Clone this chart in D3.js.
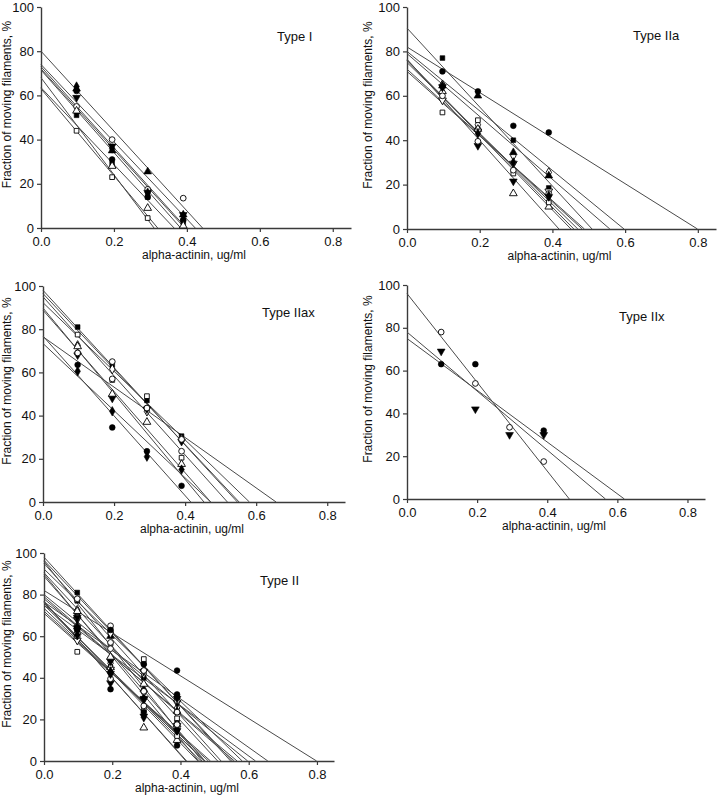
<!DOCTYPE html>
<html>
<head>
<meta charset="utf-8">
<script src="https://cdn.jsdelivr.net/npm/d3@7"></script>
<style>
  html, body { margin: 0; padding: 0; background: #fff; }
  svg { display: block; font-family: "Liberation Sans", Arial, sans-serif; }
</style>
</head>
<body>
<svg id="chart" width="720" height="795"></svg>
<script>
// ---------------- DATA ----------------
const xValues = [0.0975, 0.195, 0.2925, 0.39];
const yTicks = [0, 20, 40, 60, 80, 100];
const xTicks = [0, 0.2, 0.4, 0.6, 0.8];
const xAxisTitle = "alpha-actinin, ug/ml";
const yAxisTitle = "Fraction of moving filaments, %";

// Type I
const typeIMarkers = ["triangle", "circleOpen", "triangleDown", "diamond", "circle", "square", "squareOpen", "triangleOpen"];
const typeIValues = [
  [63, 35, 25.5, 6],
  [55, 40, 17.5, 13.5],
  [59, 37, 16, 6],
  [64, 36, 16, 4],
  [62, 31, 14, 3.5],
  [51, 29, 14, 2.5],
  [44, 23, 4.5, null],
  [53, 28, 9, 1]
];
const typeIIntercepts = [80, 74, 73, 72, 71.5, 63.5, 63, 68];
const typeIXZeros = [0.443, 0.423, 0.398, 0.394, 0.383, 0.365, 0.32, 0.31];

// Type IIa
const typeIIaMarkers = ["circle", "square", "diamondOpen", "triangle", "triangleOpen", "triangleDownOpen", "squareOpen", "triangleDown", "circleOpen", "diamond"];
const typeIIaValues = [
  [71, 62, 46.5, 43.5],
  [77, 45, 40, 18.5],
  [65, 47, 33, 25.5],
  [64.5, 60, 34.5, 24],
  [62, 45, 16, 10],
  [58, 44, 29.5, 17],
  [52.5, 49, 25, 12],
  [64, 37.5, 21.5, 14.5],
  [60, 39.5, 26.5, 16],
  [64, 43, 30, 15]
];
const typeIIaIntercepts = [82, 90.5, 80, 79, 76, 72, 71, 76.5, 75, 76];
const typeIIaXZeros = [0.799, 0.509, 0.597, 0.558, 0.451, 0.482, 0.488, 0.418, 0.47, 0.459];

// Type IIax
const typeIIaxMarkers = ["square", "squareOpen", "circleOpen", "diamondOpen", "triangleDown", "triangleOpen", "circle", "diamond", "circleOpen"];
const typeIIaxValues = [
  [81, 63.5, 47, 30.5],
  [77.5, 56.5, 49, 20.5],
  [69, 65, 43.5, 23.5],
  [72.5, 61.5, 42, 29],
  [68, 48, 43, 28],
  [72, 50, 37, 17.5],
  [63.5, 34.5, 23.5, 7.5],
  [60.5, 42, 21, 15],
  [69, 57, 43.5, 29]
];
const typeIIaxIntercepts = [98, 96.5, 95, 92.3, 88.8, 89.8, 76.8, 73.4, 76.5];
const typeIIaxXZeros = [0.547, 0.552, 0.519, 0.581, 0.472, 0.453, 0.416, 0.472, 0.656];

// Type IIx
const typeIIxMarkers = ["circleOpen", "circle", "triangleDown"];
const typeIIxValues = [
  [78, 54, 33.5, 17.5],
  [63, 63, null, 32],
  [69, 42, 30, 30]
];
const typeIIxIntercepts = [96, 75, 78];
const typeIIxXZeros = [0.463, 0.62, 0.566];

// Type II = all fibre sub-types together
const typeIIMarkers = typeIIaMarkers.concat(typeIIaxMarkers, typeIIxMarkers);
const typeIIValues = typeIIaValues.concat(typeIIaxValues, typeIIxValues);
const typeIIIntercepts = typeIIaIntercepts.concat(typeIIaxIntercepts, typeIIxIntercepts);
const typeIIXZeros = typeIIaXZeros.concat(typeIIaxXZeros, typeIIxXZeros);

// ---------------- LAYOUT ----------------
const panels = [
  { title: "Type I",    markers: typeIMarkers,    values: typeIValues,    icpt: typeIIntercepts,    xz: typeIXZeros,
    left: 41,  right: 351, top: 7,   bottom: 228, tx: 277, ty: 41 },
  { title: "Type IIa",  markers: typeIIaMarkers,  values: typeIIaValues,  icpt: typeIIaIntercepts,  xz: typeIIaXZeros,
    left: 407, right: 716, top: 7,   bottom: 229, tx: 633, ty: 40 },
  { title: "Type IIax", markers: typeIIaxMarkers, values: typeIIaxValues, icpt: typeIIaxIntercepts, xz: typeIIaxXZeros,
    left: 43,  right: 345, top: 286, bottom: 502, tx: 262, ty: 317 },
  { title: "Type IIx",  markers: typeIIxMarkers,  values: typeIIxValues,  icpt: typeIIxIntercepts,  xz: typeIIxXZeros,
    left: 407, right: 705, top: 285, bottom: 499, tx: 619, ty: 321 },
  { title: "Type II",   markers: typeIIMarkers,   values: typeIIValues,   icpt: typeIIIntercepts,   xz: typeIIXZeros,
    left: 44,  right: 334, top: 553, bottom: 761, tx: 260, ty: 585 }
];

const svg = d3.select("#chart");
const axisColor = "#3a3a3a";
const lineColor = "#4a4a4a";

function symbolFor(code) {
  const base = code.replace("Open", "");
  let type = d3.symbolCircle, size = 26, rot = 0;
  if (base === "square") { type = d3.symbolSquare; size = 22; }
  else if (base === "triangle") { type = d3.symbolTriangle; size = 26; }
  else if (base === "triangleDown") { type = d3.symbolTriangle; size = 26; rot = 180; }
  else if (base === "diamond") { type = d3.symbolDiamond; size = 26; }
  return { path: d3.symbol().type(type).size(size)(), rot, open: code.endsWith("Open") };
}

panels.forEach(p => {
  const x = d3.scaleLinear().domain([0, 0.85]).range([p.left, p.right]);
  const y = d3.scaleLinear().domain([0, 100]).range([p.bottom, p.top]);
  const g = svg.append("g");

  // axes
  const ya = g.append("g").attr("transform", `translate(${p.left},0)`)
    .call(d3.axisLeft(y).tickValues(yTicks).tickSize(4).tickSizeOuter(0).tickPadding(3).tickFormat(d3.format("d")));
  const xa = g.append("g").attr("transform", `translate(0,${p.bottom})`)
    .call(d3.axisBottom(x).tickValues(xTicks).tickSize(4).tickSizeOuter(0).tickPadding(5).tickFormat(d3.format(".1f")));
  [ya, xa].forEach(a => {
    a.select(".domain").attr("stroke", axisColor).attr("stroke-width", 1.4);
    a.selectAll(".tick line").attr("stroke", axisColor).attr("stroke-width", 1.2);
    a.selectAll(".tick text").attr("fill", "#111").attr("font-size", 13)
      .attr("font-family", "'Liberation Sans', Arial, sans-serif");
  });

  // regression lines
  g.append("g").selectAll("line").data(p.icpt.map((b, i) => [b, p.xz[i]])).join("line")
    .attr("x1", x(0)).attr("y1", d => y(d[0]))
    .attr("x2", d => x(d[1])).attr("y2", y(0))
    .attr("stroke", lineColor).attr("stroke-width", 1);

  // points
  const pts = [];
  p.values.forEach((vals, si) => {
    vals.forEach((v, j) => { if (v !== null) pts.push({ x: xValues[j], y: v, m: p.markers[si] }); });
  });
  g.append("g").selectAll("path").data(pts).join("path")
    .each(function (d) {
      const s = symbolFor(d.m);
      d3.select(this).attr("d", s.path)
        .attr("transform", `translate(${x(d.x)},${y(d.y)}) rotate(${s.rot})`)
        .attr("fill", s.open ? "#fff" : "#000")
        .attr("stroke", "#000").attr("stroke-width", s.open ? 0.9 : 0.6);
    });

  // titles
  g.append("text").attr("x", p.tx).attr("y", p.ty).attr("font-size", 13).attr("fill", "#111").text(p.title);
  g.append("text").attr("x", (p.left + p.right) / 2 - 2).attr("y", p.bottom + 31)
    .attr("text-anchor", "middle").attr("font-size", 12).attr("fill", "#111").text(xAxisTitle);
  const lx = p.left < 200 ? 11 : 372;
  const ly = (p.top + p.bottom) / 2 - 13;
  g.append("text").attr("transform", `translate(${lx},${ly}) rotate(-90)`)
    .attr("text-anchor", "middle").attr("font-size", 12).attr("fill", "#111").text(yAxisTitle);
});
</script>
</body>
</html>
